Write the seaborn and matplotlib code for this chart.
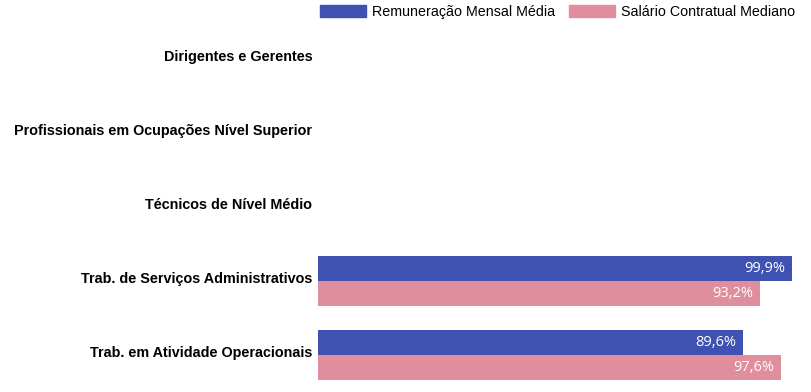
import pandas as pd
import numpy as np
import matplotlib.pyplot as plt
import matplotlib.transforms as mtransforms
import seaborn as sns

# Dados
categorias = ['Dirigentes e Gerentes',
              'Profissionais em Ocupações Nível Superior',
              'Técnicos de Nível Médio',
              'Trab. de Serviços Administrativos',
              'Trab. em Atividade Operacionais']
series = ['Remuneração Mensal Média', 'Salário Contratual Mediano']
remuneracao = [np.nan, np.nan, np.nan, 99.9, 89.6]
salario = [np.nan, np.nan, np.nan, 93.2, 97.6]
cores = ['#3f51b1', '#e08d9d']

df = pd.DataFrame({'Categoria': categorias,
                   series[0]: remuneracao,
                   series[1]: salario})
df_melted = df.melt(id_vars='Categoria', value_vars=series,
                    var_name='Série', value_name='Valor').dropna()

sns.set_style('white')
plt.rcParams['font.family'] = ['Liberation Sans', 'DejaVu Sans']
plt.rcParams['text.color'] = 'black'
plt.rcParams['ytick.color'] = 'black'

fig = plt.figure(figsize=(8.12, 3.92), dpi=100)
ax = fig.add_axes([0.3916, 0.0, 0.5964, 0.944])
sns.barplot(data=df_melted, x='Valor', y='Categoria', hue='Série',
            order=categorias, hue_order=series, palette=cores,
            orient='h', width=0.67, saturation=1, linewidth=0,
            ax=ax, legend=False)

# rótulos de valor dentro do fim das barras
for cont in ax.containers:
    for p in cont:
        w = p.get_width()
        if np.isnan(w) or w == 0:
            continue
        ax.annotate(f'{w:.1f}%'.replace('.', ','),
                    (w, p.get_y() + p.get_height() / 2),
                    xytext=(-5, 0), textcoords='offset points',
                    ha='right', va='center', color='white', fontsize=10.5,
                    family=['Open Sans', 'DejaVu Sans'])

ax.set_xlim(0, 102)
ax.set_ylim(4.5, -0.5)
ax.set(xlabel=None, ylabel=None)
ax.set_xticks([])
ax.tick_params(axis='y', length=0, pad=4)
shift = mtransforms.ScaledTranslation(0, 0.03, fig.dpi_scale_trans)
for lbl in ax.get_yticklabels():
    lbl.set_fontweight('bold')
    lbl.set_fontsize(10.4)
    lbl.set_color('black')
    lbl.set_transform(lbl.get_transform() + shift)
sns.despine(ax=ax, left=True, bottom=True)

handles = [plt.Rectangle((0, 0), 1, 1, color=c) for c in cores]
fig.legend(handles, series, ncol=2, loc='upper right',
           bbox_to_anchor=(0.992, 1.012), frameon=False, fontsize=10.25,
           handlelength=3.2, handleheight=0.9, columnspacing=1.0,
           handletextpad=0.45, borderpad=0.2)

plt.savefig('out.png', dpi=100)
